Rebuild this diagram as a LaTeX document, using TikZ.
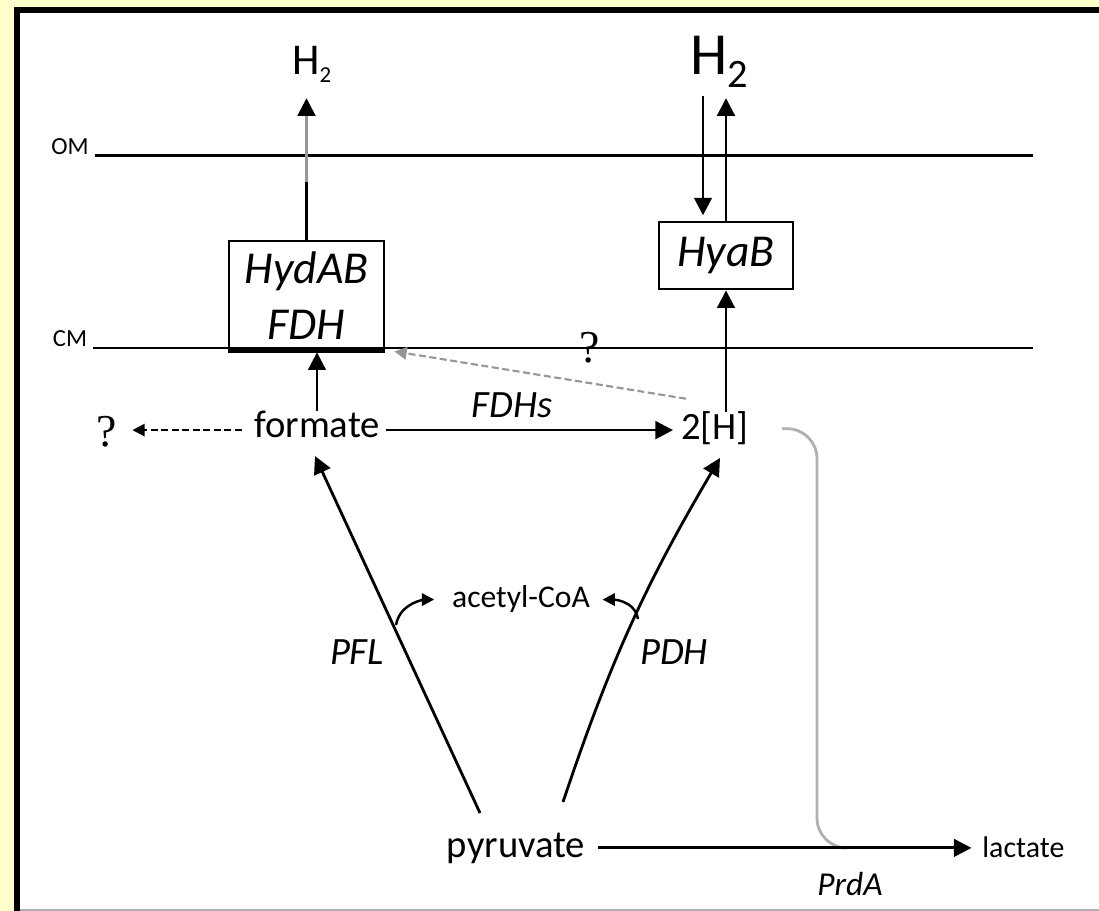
\documentclass[tikz,border=0pt]{standalone}
\usepackage{fontspec}
\setmainfont{Carlito}
\newfontfamily\qmarkfont{Liberation Serif}
\usetikzlibrary{arrows.meta}
\definecolor{paleyellow}{RGB}{255,255,204}
\definecolor{lightline}{RGB}{176,176,176}
\definecolor{midline}{RGB}{150,150,150}

\begin{document}
\begin{tikzpicture}[
    x=0.02cm, y=-0.02cm,
    every node/.style={inner sep=0pt},
    lbl/.style={font=\fontsize{22}{26}\selectfont},
    elbl/.style={font=\fontsize{22}{26}\selectfont\itshape},
    qm/.style={font=\fontsize{26}{30}\selectfont\qmarkfont},
    enz/.style={draw, line width=1.6pt, align=center,
      font=\fontsize{26}{32}\selectfont\itshape},
    mem/.style={line width=1.7pt},
    arr/.style={-{Triangle[length=10pt, width=10pt]}, line width=1.6pt},
    arrs/.style={-{Triangle[length=7pt, width=7pt]}, line width=1.4pt},
    dotarr/.style={arrs, dash pattern=on 4pt off 2pt, line width=1.2pt},
  ]
  \useasboundingbox (0,0) rectangle (1099,911);

  % Frame
  \fill[paleyellow] (0,0) rectangle (1099,911);
  \fill[white] (17,10) rectangle (1099,909);
  \draw[line width=3.4pt] (14,10) -- (1099,10);
  \draw[line width=3.4pt] (17,7) -- (17,911);
  \draw[lightline, line width=0.8pt] (20,910) -- (1099,910);

  % Membranes
  \node[font=\fontsize{14}{16}\selectfont, anchor=base] (om) at (70,155) {OM};
  \node[font=\fontsize{14}{16}\selectfont, anchor=base] (cm) at (70,347) {CM};
  \draw[mem] (om.base east) ++(6,1) -- (1033,156);
  \draw[mem] (cm.base east) ++(6,1) -- (1033,348);

  % Enzymes
  \node[enz, minimum width=3.1cm, minimum height=2.2cm] (hyd) at (306.5,296) {HydAB\\FDH};
  \node[enz, minimum width=2.68cm, minimum height=1.34cm] (hya) at (726,255.5) {HyaB};
  \draw[line width=3.4pt] ([shift={(0,-2)}]hyd.south west) -- ([shift={(0,-2)}]hyd.south east);

  % Metabolites
  \node[font=\fontsize{25}{28}\selectfont, anchor=base west] (hL) at (292,75)
    {H\raisebox{-4pt}{\fontsize{13}{14}\selectfont 2}};
  \node[font=\fontsize{34}{38}\selectfont, anchor=base west] (hR) at (690,75)
    {H\raisebox{-7pt}{\fontsize{23}{26}\selectfont 2}};
  \node[lbl, anchor=base] (form) at (317,438) {formate};
  \node[lbl, anchor=base] (hh) at (715,440) {2[H]};
  \node[lbl, anchor=base] (pyr) at (516,857) {pyruvate};
  \node[font=\fontsize{18}{20}\selectfont, anchor=base] (acoa) at (521,608) {acetyl-CoA};
  \node[font=\fontsize{17}{20}\selectfont, anchor=base west] (lac) at (982,857) {lactate};
  \node[qm, anchor=base] (q1) at (107,447) {?};
  \node[qm, anchor=base] (q2) at (590,363) {?};

  % Enzyme labels
  \node[elbl, anchor=base] (fdhs) at (512,418) {FDHs};
  \node[elbl, anchor=base] (pfl) at (357,665) {PFL};
  \node[elbl, anchor=base] (pdh) at (674,665) {PDH};
  \node[elbl, font=\fontsize{19}{22}\selectfont\itshape, anchor=base] (prda) at (850,895) {PrdA};

  % Branch points
  \coordinate (pflA) at (480,813);
  \coordinate (pflB) at (315,456);
  \coordinate (pdhA) at (563,802);
  \coordinate (pdhB) at (720,458);
  \coordinate (pflMid) at (396,625);
  \coordinate (pdhMid) at (638,619);

  % H2 out of HydAB
  \draw[mem] (hyd.north) -- ++(0,-58) coordinate (hydGray);
  \draw[arr, midline, -{Triangle[length=10pt, width=10pt, color=black]}, shorten >=9pt]
    (hydGray) -- (hydGray |- hL.south);

  % H2 in and out of HyaB
  \draw[arr, shorten <=4.5pt, shorten >=3pt]
    ([xshift=-0.46cm]hya.north |- hR.south) -- ([xshift=-0.46cm]hya.north);
  \draw[arr, shorten >=6pt] (hya.north) -- (hya.north |- hR.south);
  \draw[arr] (hh.north -| hya.south) -- (hya.south);

  % formate
  \draw[arr] (form.north) -- (form.north |- hyd.south);
  \draw[arr, shorten <=3.4pt, shorten >=4.5pt]
    ([yshift=4.5pt]form.base east) -- ([yshift=4.5pt]form.base east -| hh.west);
  \draw[dotarr, shorten <=6.8pt, shorten >=8.5pt]
    ([yshift=4.5pt]form.base west) -- ([yshift=4.5pt]form.base west -| q1.east);
  \draw[dotarr, midline] ([shift={(5,-13)}]hh.north west) -- ([shift={(9,-1)}]hyd.south east);

  % pyruvate
  \draw[arr] (pflA) -- (pflB);
  \draw[arr] (pdhA) to[bend left=6] (pdhB);
  \draw[arrs, shorten >=10pt] (pflMid) to[out=80, in=180] (acoa.west);
  \draw[arrs, shorten >=7pt] (pdhMid) to[out=100, in=0] (acoa.east);
  \draw[lightline, line width=1.6pt, rounded corners=0.6cm]
    ([shift={(33,0)}]hh.east) -| (817,848) -- (842,848);
  \draw[arr, shorten <=7pt, shorten >=6pt] (pyr.east) -- (pyr.east -| lac.west);

\end{tikzpicture}
\end{document}
